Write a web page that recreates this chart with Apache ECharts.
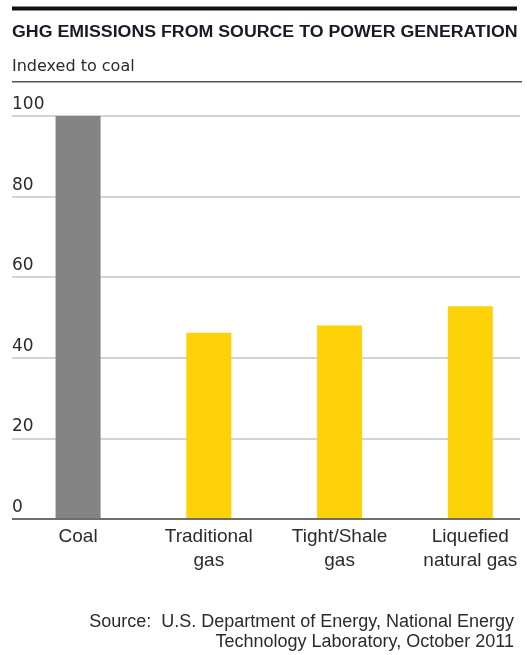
<!DOCTYPE html>
<html>
<head>
<meta charset="utf-8">
<script src="https://cdn.jsdelivr.net/npm/echarts@6/dist/echarts.min.js"></script>
<style>
  html, body { margin: 0; padding: 0; background: #fff; }
  #chart { width: 527px; height: 655px; }
</style>
</head>
<body>
<div id="chart"></div>
<script>
// GHG emissions from source to power generation, indexed to coal = 100
const categories = ['Coal', 'Traditional\ngas', 'Tight/Shale\ngas', 'Liquefied\nnatural gas'];
const emissions = [100, 46.2, 48.0, 52.8];
const barColors = ['#848485', '#fdd209', '#fdd209', '#fdd209'];
const yTicks = [0, 20, 40, 60, 80, 100];

const SANS = '"Liberation Sans", Arial, sans-serif';
const WIDE = '"DejaVu Sans", sans-serif';
const TEXT = '#2b2b2b';

const chart = echarts.init(document.getElementById('chart'), null, { renderer: 'canvas' });

chart.setOption({
  animation: false,
  backgroundColor: '#fff',
  grid: [
    // scale grid: gridlines and tick labels
    { left: 12, width: 508, top: 116, height: 403, outerBoundsMode: 'none' },
    // bar grid: category bands
    { left: 12.7, width: 523, top: 116, height: 403, outerBoundsMode: 'none' }
  ],
  xAxis: [
    { gridIndex: 0, type: 'value', min: 0, max: 1, show: false },
    {
      gridIndex: 1,
      type: 'category',
      data: categories,
      axisLine: { show: false },
      axisTick: { show: false },
      axisLabel: {
        color: TEXT,
        fontFamily: SANS,
        fontSize: 19,
        lineHeight: 24,
        margin: 6,
        interval: 0
      }
    }
  ],
  yAxis: [
    {
      gridIndex: 0,
      type: 'value',
      min: yTicks[0],
      max: yTicks[yTicks.length - 1],
      interval: 20,
      axisLine: { show: false },
      axisTick: { show: false },
      splitLine: { lineStyle: { color: '#c4c4c4', width: 1.5 } },
      axisLabel: {
        inside: true,
        margin: 0,
        color: TEXT,
        fontFamily: WIDE,
        fontSize: 17,
        verticalAlign: 'bottom',
        padding: [0, 0, 3, 0],
        showMinLabel: true,
        showMaxLabel: true
      }
    },
    { gridIndex: 1, type: 'value', min: 0, max: 100, show: false }
  ],
  series: [
    {
      type: 'bar',
      xAxisIndex: 1,
      yAxisIndex: 1,
      barWidth: 45,
      data: emissions.map((v, i) => ({ value: v, itemStyle: { color: barColors[i] } }))
    },
    {
      // baseline along zero
      type: 'line',
      xAxisIndex: 0,
      yAxisIndex: 0,
      data: [[0, 0], [1, 0]],
      symbol: 'none',
      silent: true,
      z: 5,
      lineStyle: { color: '#6e6e6e', width: 2 }
    }
  ],
  graphic: [
    { type: 'rect', shape: { x: 12, y: 6.5, width: 505, height: 4 }, style: { fill: '#111' } },
    {
      type: 'text', x: 12, y: 24.5, scaleX: 1.11,
      style: { text: 'GHG EMISSIONS FROM SOURCE TO POWER GENERATION', fill: '#1a1a26',
               font: 'bold 16px ' + SANS, textVerticalAlign: 'top' }
    },
    {
      type: 'text', x: 12, y: 58.5,
      style: { text: 'Indexed to coal', fill: TEXT, font: '16px ' + WIDE, textVerticalAlign: 'top' }
    },
    { type: 'rect', shape: { x: 12, y: 81, width: 510, height: 1.5 }, style: { fill: '#555' } },
    {
      type: 'text', right: 13, top: 613.5,
      style: { text: 'Source:  U.S. Department of Energy, National Energy', fill: TEXT,
               font: '18px ' + SANS }
    },
    {
      type: 'text', right: 13, top: 633.5,
      style: { text: 'Technology Laboratory, October 2011', fill: TEXT,
               font: '18px ' + SANS }
    }
  ]
});
</script>
</body>
</html>
